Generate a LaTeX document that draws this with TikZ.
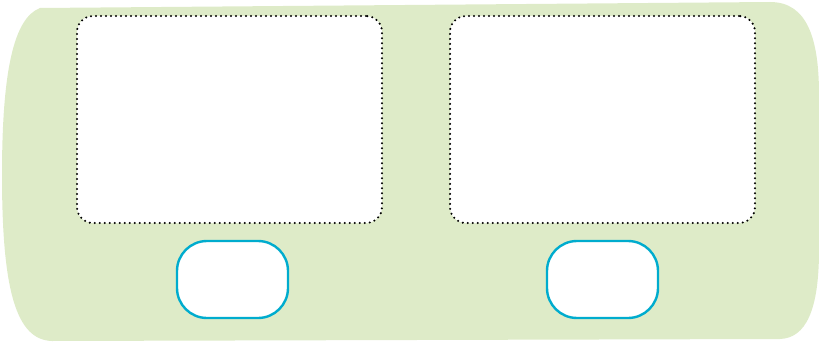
\documentclass[tikz,border=0pt]{standalone}
\usepackage{tikz}
\usetikzlibrary{positioning}
\definecolor{padgreen}{RGB}{222,235,200}
\definecolor{knobcyan}{RGB}{0,172,206}

\begin{document}
\begin{tikzpicture}[
  x=1pt, y=-1pt,
  panel/.style={draw=black, fill=white, line width=2.3pt, line cap=round,
    dash pattern=on 0pt off 5pt, rounded corners=16pt,
    minimum width=305pt, minimum height=207pt, inner sep=0pt},
  knob/.style={draw=knobcyan, fill=white, line width=2.4pt, rounded corners=30pt,
    minimum width=111pt, minimum height=77pt, inner sep=0pt}
]
\useasboundingbox (0,0) rectangle (819,342);
% background pad
\fill[padgreen] (40,8) -- (770,2) .. controls (808,2) and (819,40) .. (819,95)
  -- (819,250) .. controls (819,310) and (806,338) .. (780,339)
  -- (52,341) .. controls (16,340) and (2,290) .. (2,175)
  .. controls (2,70) and (14,18) .. (40,8) -- cycle;
% screens
\node[panel] (screenL) at (229.5,119.5) {};
\node[panel] (screenR) at (602.5,119.5) {};
% buttons
\node[knob] (buttonL) at (232.5,279.5) {};
\node[knob] (buttonR) at (602.5,279.5) {};
\end{tikzpicture}
\end{document}
